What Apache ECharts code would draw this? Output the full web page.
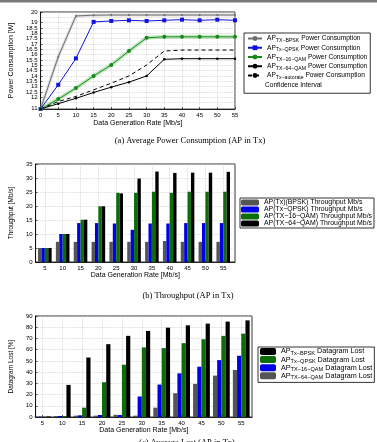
<!DOCTYPE html>
<html>
<head>
<meta charset="utf-8">
<title>AP in Tx</title>
<style>
  html, body { margin: 0; padding: 0; background-color: #fff; }
  #charts { width: 377px; height: 442px; }
</style>
</head>
<body>
<div id="charts"></div>
<script src="https://cdn.jsdelivr.net/npm/echarts@6/dist/echarts.min.js"></script>
<script>
// (a) power consumption [W] vs data generation rate
var rates = [0, 5, 10, 15, 20, 25, 30, 35, 40, 45, 50, 55];
var bpskPower  = [10.9, 15.8, 19.63, 19.7, 19.72, 19.72, 19.72, 19.72, 19.72, 19.72, 19.72, 19.72];
var qpskPower  = [10.9, 13.17, 15.65, 19.07, 19.16, 19.22, 19.16, 19.22, 19.28, 19.22, 19.28, 19.22];
var qam16Power = [10.9, 11.83, 12.86, 14.0, 15.03, 16.34, 17.58, 17.67, 17.67, 17.67, 17.67, 17.67];
var qam64Power = [10.9, 11.4, 11.9, 12.45, 12.95, 13.42, 14.0, 15.56, 15.62, 15.62, 15.62, 15.62];
var autoPower  = [10.9, 11.6, 12.08, 12.7, 13.32, 14.0, 15.03, 16.34, 16.43, 16.43, 16.43, 16.43];
var powerTicks = [11, 11.5, 12, 12.5, 13, 13.5, 14, 14.5, 15, 15.5, 16, 16.5, 17, 17.5, 18, 18.5, 19, 19.5, 20];

// (b) throughput [Mb/s] and (c) datagram lost [%]
var barRates = [5, 10, 15, 20, 25, 30, 35, 40, 45, 50, 55];
var bpskThr  = [5, 7.2, 7.2, 7.2, 7.2, 7.2, 7.2, 7.5, 7.2, 7.2, 7.2];
var qpskThr  = [5, 10, 13.9, 13.9, 13.75, 11.5, 13.75, 13.75, 13.9, 13.9, 13.9];
var qam16Thr = [5, 10, 15.1, 19.9, 24.7, 24.7, 25.1, 24.7, 25.1, 25.1, 25.1];
var qam64Thr = [5, 10, 15.1, 19.9, 24.5, 29.8, 32.3, 31.8, 31.9, 31.9, 32.2];

var bpskLost  = [0.5, 28.6, 53, 64.9, 72.3, 76.7, 79.6, 81.7, 83.2, 85, 86.1];
var qpskLost  = [0.3, 0.9, 8.3, 31, 46.6, 62, 61.4, 65.8, 69.3, 72.3, 74.3];
var qam16Lost = [0.3, 0.9, 1.5, 1.8, 1.8, 18.3, 28.9, 38.9, 44.8, 50.7, 54.6];
var qam64Lost = [0.3, 0.9, 1.2, 1.2, 2, 1.2, 8.3, 21.2, 29.5, 36.9, 41.9];

var rateTicks = [0, 5, 10, 15, 20, 25, 30, 35, 40, 45, 50, 55];

var font = 'Liberation Sans';

function pairs(xs, ys) {
    return xs.map(function (x, i) { return [x, ys[i]]; });
}

var legendText = {
    'p_bpsk': ['AP', 'TX\u2212BPSK', ' Power Consumption'],
    'p_qpsk': ['AP', 'Tx\u2212QPSK', ' Power Consumption'],
    'p_16':   ['AP', 'TX\u221216\u2212QAM', ' Power Consumption'],
    'p_64':   ['AP', 'TX\u221264\u2212QAM', ' Power Consumption'],
    'p_auto': ['AP', 'Tx\u2212autorate', ' Power Consumption'],
    't_bpsk': 'AP(Tx)(BPSK) Throughput Mb/s',
    't_qpsk': 'AP(Tx\u2212QPSK) Throughput Mb/s',
    't_16':   'AP(TX\u221216\u2212QAM) Throughput Mb/s',
    't_64':   'AP(TX\u221264\u2212QAM) Throughput Mb/s',
    'l_bpsk': ['AP', 'Tx\u2212BPSK', ' Datagram Lost'],
    'l_qpsk': ['AP', 'Tx\u2212QPSK', ' Datagram Lost'],
    'l_16':   ['AP', 'TX\u221216\u2212QAM', ' Datagram Lost'],
    'l_64':   ['AP', 'TX\u221264\u2212QAM', ' Datagram Lost']
};

function fmt(name) {
    var t = legendText[name];
    if (typeof t === 'string') return t;
    return '{a|' + t[0] + '}{s|' + t[1] + '}{a|' + t[2] + '}';
}

function valueAxis(grid, min, max, ticks, name, gap) {
    return {
        type: 'value', gridIndex: grid, min: min, max: max,
        name: name, nameLocation: 'middle', nameGap: gap,
        nameTextStyle: { fontFamily: font, fontSize: 7, color: '#000' },
        axisLine: { lineStyle: { color: '#000', width: 0.8 } },
        axisTick: { inside: true, length: 2, customValues: ticks, lineStyle: { color: '#000', width: 0.6 } },
        axisLabel: { customValues: ticks, showMinLabel: true, showMaxLabel: true, hideOverlap: false,
                     fontFamily: font, fontSize: 6, color: '#000', margin: 3 },
        splitLine: { show: true, lineStyle: { color: '#c8c8c8', type: 'dotted', width: 0.7 } }
    };
}

function simpleAxis(grid, min, max, interval, name, gap) {
    return {
        type: 'value', gridIndex: grid, min: min, max: max, interval: interval,
        name: name, nameLocation: 'middle', nameGap: gap,
        nameTextStyle: { fontFamily: font, fontSize: 6.5, color: '#000' },
        axisLine: { show: true, lineStyle: { color: '#000', width: 0.8 } },
        axisTick: { show: true, inside: true, length: 2, lineStyle: { color: '#000', width: 0.6 } },
        axisLabel: { showMinLabel: true, showMaxLabel: true, fontFamily: font, fontSize: 6, color: '#000', margin: 3 },
        splitLine: { show: true, lineStyle: { color: '#c8c8c8', type: 'dotted', width: 0.7 } }
    };
}

var option = {
    backgroundColor: '#fff',
    animation: false,
    grid: [
        { left: 29, top: 12, width: 206, height: 97, show: true, borderColor: '#000', borderWidth: 0.8 },
        { left: 27, top: 164, width: 208, height: 98, show: true, borderColor: '#000', borderWidth: 0.8 },
        { left: 24, top: 316, width: 228, height: 101, show: true, borderColor: '#000', borderWidth: 0.8 }
    ],
    xAxis: [
        valueAxis(0, 0, 55, rateTicks, 'Data Generation Rate [Mb/s]', 11),
        valueAxis(1, 2.4, 58.3, barRates, 'Data Generation Rate [Mb/s]', 10),
        valueAxis(2, 3.3, 57.7, barRates, 'Data Generation Rate [Mb/s]', 9)
    ],
    yAxis: [
        valueAxis(0, 10.9, 20, powerTicks, 'Power Consumption [W]', 20),
        simpleAxis(1, 0, 35, 5, 'Throughput [Mb/s]', 15),
        simpleAxis(2, 0, 90, 10, 'Datagram Lost [%]', 16)
    ],
    legend: [
        {
            left: 244, top: 33, orient: 'vertical',
            itemWidth: 14, itemHeight: 6, itemGap: 1,
            padding: [2, 3, 13, 3],
            borderColor: '#000', borderWidth: 0.8, backgroundColor: '#fff',
            data: ['p_bpsk', 'p_qpsk', 'p_16', 'p_64', 'p_auto'],
            formatter: fmt,
            textStyle: {
                color: '#000',
                rich: {
                    a: { fontFamily: font, fontSize: 6.6, lineHeight: 9.5, color: '#000' },
                    s: { fontFamily: font, fontSize: 5.2, lineHeight: 4, verticalAlign: 'bottom', color: '#000' }
                }
            }
        },
        {
            left: 240, top: 198, orient: 'vertical',
            itemWidth: 18, itemHeight: 6, itemGap: 0,
            padding: [1, 2, 1, 1],
            borderColor: '#000', borderWidth: 0.8, backgroundColor: '#fff',
            data: ['t_bpsk', 't_qpsk', 't_16', 't_64'],
            formatter: fmt,
            textStyle: { fontFamily: font, fontSize: 6.9, lineHeight: 6, color: '#000' }
        },
        {
            left: 258, top: 347, orient: 'vertical',
            itemWidth: 16, itemHeight: 7, itemGap: 0,
            padding: [1, 2, 2, 2],
            borderColor: '#000', borderWidth: 0.8, backgroundColor: '#fff',
            data: ['l_bpsk', 'l_qpsk', 'l_16', 'l_64'],
            formatter: fmt,
            textStyle: {
                color: '#000',
                rich: {
                    a: { fontFamily: font, fontSize: 7.2, lineHeight: 9.2, color: '#000' },
                    s: { fontFamily: font, fontSize: 5.6, lineHeight: 4, verticalAlign: 'bottom', color: '#000' }
                }
            }
        }
    ],
    graphic: [
        { type: 'rect', left: 0, top: 0, z: 10, shape: { width: 377, height: 2.5 }, style: { fill: '#7a7a7a' } },
        { type: 'text', left: 265, top: 82, z: 10, style: { text: 'Confidence Interval', font: '6.6px "Liberation Sans"', fill: '#000' } },
        { type: 'text', x: 190, y: 141, z: 10, style: { text: '(a) Average Power Consumption (AP in Tx)', font: '8.5px "Liberation Serif"', fill: '#000', align: 'center', verticalAlign: 'middle' } },
        { type: 'text', x: 188, y: 296, z: 10, style: { text: '(b) Throughput (AP in Tx)', font: '8.5px "Liberation Serif"', fill: '#000', align: 'center', verticalAlign: 'middle' } },
        { type: 'text', x: 187, y: 443, z: 10, style: { text: '(c) Average Lost (AP in Tx)', font: '8.5px "Liberation Serif"', fill: '#000', align: 'center', verticalAlign: 'middle' } }
    ],
    series: [
        // confidence bands drawn under the lines
        { type: 'line', xAxisIndex: 0, yAxisIndex: 0, data: pairs(rates, bpskPower), symbol: 'none', silent: true,
          lineStyle: { color: 'rgba(150,150,150,0.3)', width: 3 } },
        { type: 'line', xAxisIndex: 0, yAxisIndex: 0, data: pairs(rates, qam16Power), symbol: 'none', silent: true,
          lineStyle: { color: 'rgba(60,180,60,0.3)', width: 4 } },

        { name: 'p_bpsk', type: 'line', xAxisIndex: 0, yAxisIndex: 0, data: pairs(rates, bpskPower),
          symbol: 'circle', symbolSize: 2, itemStyle: { color: '#6e6e6e' }, lineStyle: { color: '#6e6e6e', width: 1 } },
        { name: 'p_qpsk', type: 'line', xAxisIndex: 0, yAxisIndex: 0, data: pairs(rates, qpskPower),
          symbol: 'rect', symbolSize: 4, itemStyle: { color: '#1010e0' }, lineStyle: { color: '#1010e0', width: 1 } },
        { name: 'p_16', type: 'line', xAxisIndex: 0, yAxisIndex: 0, data: pairs(rates, qam16Power),
          symbol: 'circle', symbolSize: 4, itemStyle: { color: '#168a16' }, lineStyle: { color: '#168a16', width: 1 } },
        { name: 'p_64', type: 'line', xAxisIndex: 0, yAxisIndex: 0, data: pairs(rates, qam64Power),
          symbol: 'circle', symbolSize: 2.5, itemStyle: { color: '#000' }, lineStyle: { color: '#000', width: 1 } },
        { name: 'p_auto', type: 'line', xAxisIndex: 0, yAxisIndex: 0, data: pairs(rates, autoPower),
          symbol: 'none', itemStyle: { color: '#000' }, lineStyle: { color: '#000', width: 1, type: [4, 3] } },

        { name: 't_bpsk', type: 'bar', xAxisIndex: 1, yAxisIndex: 1, data: pairs(barRates, bpskThr),
          barWidth: 3.4, barGap: '0%', itemStyle: { color: '#555555' } },
        { name: 't_qpsk', type: 'bar', xAxisIndex: 1, yAxisIndex: 1, data: pairs(barRates, qpskThr),
          barWidth: 3.4, barGap: '0%', itemStyle: { color: '#0000e6' } },
        { name: 't_16', type: 'bar', xAxisIndex: 1, yAxisIndex: 1, data: pairs(barRates, qam16Thr),
          barWidth: 3.4, barGap: '0%', itemStyle: { color: '#0b6e0b' } },
        { name: 't_64', type: 'bar', xAxisIndex: 1, yAxisIndex: 1, data: pairs(barRates, qam64Thr),
          barWidth: 3.4, barGap: '0%', itemStyle: { color: '#000' } },

        { name: 'l_64', type: 'bar', xAxisIndex: 2, yAxisIndex: 2, data: pairs(barRates, qam64Lost),
          barWidth: 4.2, barGap: '0%', itemStyle: { color: '#555555' } },
        { name: 'l_16', type: 'bar', xAxisIndex: 2, yAxisIndex: 2, data: pairs(barRates, qam16Lost),
          barWidth: 4.2, barGap: '0%', itemStyle: { color: '#0000e6' } },
        { name: 'l_qpsk', type: 'bar', xAxisIndex: 2, yAxisIndex: 2, data: pairs(barRates, qpskLost),
          barWidth: 4.2, barGap: '0%', itemStyle: { color: '#0b6e0b' } },
        { name: 'l_bpsk', type: 'bar', xAxisIndex: 2, yAxisIndex: 2, data: pairs(barRates, bpskLost),
          barWidth: 4.2, barGap: '0%', itemStyle: { color: '#000' } }
    ]
};

var myChart = echarts.init(document.getElementById('charts'));
myChart.setOption(option);
</script>
</body>
</html>
